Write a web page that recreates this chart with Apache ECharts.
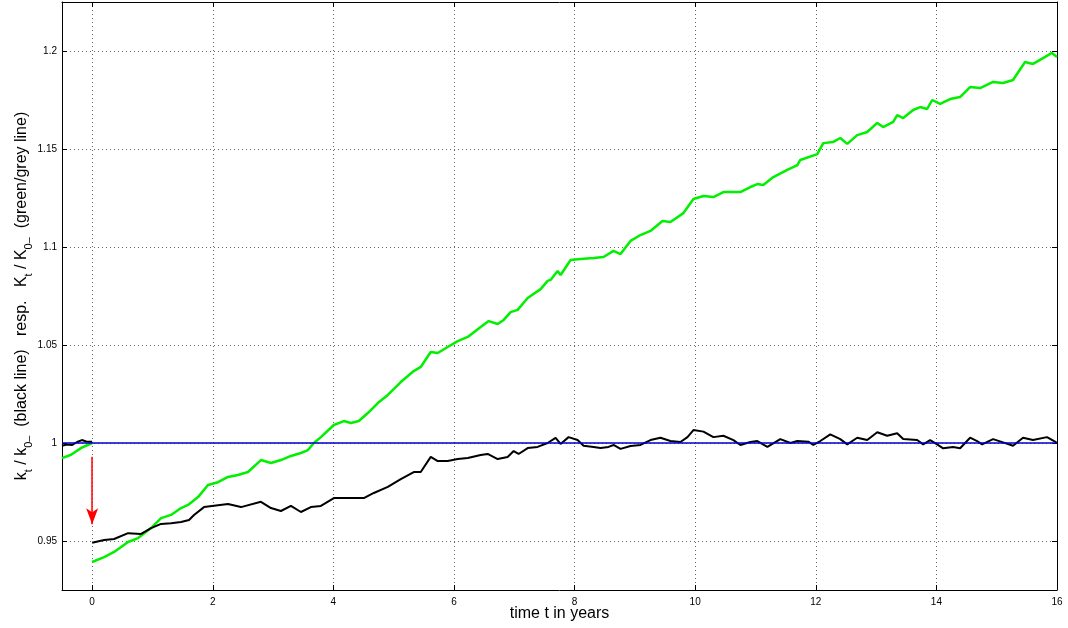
<!DOCTYPE html>
<html><head><meta charset="utf-8">
<script src="https://cdn.jsdelivr.net/npm/echarts@6/dist/echarts.min.js"></script>
<style>html,body{margin:0;padding:0;background:#fff}#c{width:1068px;height:628px}</style>
</head><body><div id="c"></div>
<script>
const xTicks = [0, 2, 4, 6, 8, 10, 12, 14, 16];
const yTicks = [0.95, 1, 1.05, 1.1, 1.15, 1.2];

const greenBefore = [[-0.5,0.9923],[-0.35,0.994],[-0.18,0.9975],[0,1.0]];
const blackBefore = [[-0.5,0.9986],[-0.42,0.9992],[-0.33,0.999],[-0.25,1.0005],[-0.17,1.0015],[-0.1,1.0008],[0,1.0007]];

const greenAfter = [[0,0.9393],[0.199,0.9418],[0.364,0.9444],[0.596,0.9495],[0.762,0.9515],[0.977,0.9566],[1.143,0.9617],[1.308,0.9633],[1.474,0.9668],[1.59,0.9684],[1.756,0.9724],[1.921,0.9786],[2.087,0.980],[2.253,0.9827],[2.418,0.9837],[2.584,0.9852],[2.799,0.9913],[2.965,0.9898],[3.13,0.9913],[3.296,0.9934],[3.462,0.9949],[3.578,0.9964],[3.677,1.0],[3.793,1.003],[4.008,1.0092],[4.174,1.0112],[4.29,1.0102],[4.422,1.0112],[4.571,1.0153],[4.737,1.0204],[4.903,1.0245],[5.118,1.0311],[5.333,1.0367],[5.449,1.0388],[5.615,1.0464],[5.731,1.0459],[5.896,1.049],[6.062,1.052],[6.228,1.0541],[6.443,1.0592],[6.576,1.0622],[6.725,1.0607],[6.824,1.0628],[6.94,1.0668],[7.056,1.0679],[7.222,1.074],[7.437,1.0785],[7.553,1.0827],[7.602,1.0832],[7.718,1.0878],[7.768,1.0857],[7.934,1.0934],[8.099,1.0939],[8.315,1.0944],[8.48,1.0949],[8.646,1.098],[8.762,1.0964],[8.928,1.1031],[9.093,1.1061],[9.259,1.1082],[9.458,1.1133],[9.59,1.1128],[9.805,1.1173],[9.971,1.1245],[10.137,1.126],[10.302,1.1255],[10.468,1.128],[10.75,1.128],[10.915,1.1306],[11.031,1.1321],[11.13,1.1316],[11.296,1.1357],[11.528,1.1393],[11.694,1.1418],[11.743,1.1444],[12.025,1.1474],[12.124,1.153],[12.29,1.1536],[12.406,1.1556],[12.522,1.1526],[12.687,1.1571],[12.853,1.1587],[13.019,1.1633],[13.118,1.1612],[13.284,1.1638],[13.35,1.1673],[13.449,1.1658],[13.615,1.1699],[13.731,1.1714],[13.847,1.1704],[13.93,1.175],[14.062,1.173],[14.228,1.1755],[14.393,1.1765],[14.559,1.1816],[14.725,1.1811],[14.94,1.1842],[15.106,1.1837],[15.271,1.1852],[15.47,1.1944],[15.602,1.1934],[15.768,1.1964],[15.917,1.199],[16.0,1.1969]];

const blackAfter = [[0,0.9491],[0.199,0.9505],[0.364,0.951],[0.596,0.954],[0.812,0.9536],[0.977,0.9566],[1.143,0.9587],[1.308,0.959],[1.474,0.9597],[1.607,0.9607],[1.689,0.9633],[1.855,0.9673],[2.021,0.968],[2.253,0.9689],[2.468,0.9673],[2.799,0.970],[2.965,0.9668],[3.13,0.9653],[3.296,0.9679],[3.462,0.9648],[3.627,0.9673],[3.793,0.9679],[4.008,0.9719],[4.29,0.9719],[4.505,0.9719],[4.671,0.9745],[4.903,0.9776],[5.118,0.9816],[5.333,0.9852],[5.449,0.9852],[5.615,0.9929],[5.731,0.9908],[5.896,0.9908],[6.062,0.9918],[6.228,0.9923],[6.443,0.9939],[6.559,0.9944],[6.725,0.9918],[6.89,0.9929],[6.99,0.9959],[7.072,0.9944],[7.222,0.9974],[7.387,0.998],[7.553,1.0],[7.685,1.0026],[7.768,0.9995],[7.901,1.003],[8.05,1.0015],[8.149,0.9986],[8.315,0.998],[8.431,0.9974],[8.563,0.998],[8.646,0.999],[8.762,0.997],[8.928,0.9985],[9.093,0.999],[9.259,1.0015],[9.424,1.0027],[9.59,1.001],[9.756,1.0005],[9.872,1.003],[9.971,1.0066],[10.137,1.0058],[10.302,1.003],[10.468,1.0037],[10.634,1.0015],[10.75,0.999],[10.915,1.0005],[11.031,1.001],[11.197,0.998],[11.412,1.002],[11.578,1.0],[11.694,1.001],[11.876,1.0007],[11.959,0.999],[12.075,1.001],[12.24,1.0044],[12.406,1.002],[12.522,0.9993],[12.687,1.0027],[12.853,1.0015],[13.019,1.0055],[13.184,1.0037],[13.35,1.005],[13.449,1.002],[13.681,1.0015],[13.781,0.9993],[13.896,1.0015],[14.012,0.9993],[14.112,0.9973],[14.277,0.998],[14.393,0.9973],[14.559,1.0027],[14.675,1.001],[14.758,0.9993],[14.94,1.002],[15.106,1.0003],[15.271,0.9986],[15.437,1.0027],[15.602,1.0015],[15.834,1.003],[15.967,1.0007],[16.0,1.0]];

const baseline = [[-0.5,1.0],[16,1.0]];
const arrowFrom = [0, 0.993];
const arrowTo = [0, 0.9585];

const FONT = 'Liberation Sans';
const chart = echarts.init(document.getElementById('c'), null, {renderer:'canvas'});

const tickCommon = {inside:true, length:5, lineStyle:{color:'#000', width:1}};
const splitDotted = {show:true, lineStyle:{color:'#666', type:[1,3], width:1}};

const yName = '{n|k}{s|t}{n| / k}{s|0–}{n|  (black line)   resp.   K}{s|t}{n| / K}{s|0–}{n|  (green/grey line)}';

chart.setOption({
  animation:false,
  backgroundColor:'#fff',
  grid:{left:62, right:11, top:2, bottom:38, show:false, containLabel:false, outerBoundsMode:'none'},
  xAxis:[{
    type:'value', min:-0.5, max:16, position:'bottom',
    axisLine:{show:true, onZero:false, lineStyle:{color:'#000', width:1}},
    axisTick:Object.assign({customValues:xTicks}, tickCommon),
    axisLabel:{customValues:xTicks, color:'#000', fontFamily:FONT, fontSize:10, margin:7},
    splitLine:splitDotted,
    name:'time t in years', nameLocation:'middle', nameGap:16, nameMoveOverlap:false,
    nameTextStyle:{color:'#000', fontFamily:FONT, fontSize:16}
  },{
    type:'value', min:-0.5, max:16, position:'top',
    axisLine:{show:true, onZero:false, lineStyle:{color:'#000', width:1}},
    axisTick:Object.assign({customValues:xTicks}, tickCommon),
    axisLabel:{show:false}, splitLine:{show:false}
  }],
  yAxis:[{
    type:'value', min:0.925, max:1.225, position:'left',
    axisLine:{show:true, onZero:false, lineStyle:{color:'#000', width:1}},
    axisTick:Object.assign({customValues:yTicks}, tickCommon),
    axisLabel:{customValues:yTicks, color:'#000', fontFamily:FONT, fontSize:10, margin:5},
    splitLine:splitDotted,
    name:yName, nameLocation:'middle', nameGap:28, nameRotate:90, nameMoveOverlap:false,
    nameTextStyle:{
      color:'#000', fontFamily:FONT, fontSize:16, lineHeight:24,
      rich:{
        n:{fontFamily:FONT, fontSize:16, color:'#000', lineHeight:24},
        s:{fontFamily:FONT, fontSize:11, color:'#000', lineHeight:12, verticalAlign:'bottom'}
      }
    }
  },{
    type:'value', min:0.925, max:1.225, position:'right',
    axisLine:{show:true, onZero:false, lineStyle:{color:'#000', width:1}},
    axisTick:Object.assign({customValues:yTicks}, tickCommon),
    axisLabel:{show:false}, splitLine:{show:false}
  }],
  series:[
    {type:'line', data:greenBefore, showSymbol:false, symbol:'none', lineStyle:{color:'#00f000', width:2.5}, z:2},
    {type:'line', data:greenAfter, showSymbol:false, symbol:'none', lineStyle:{color:'#00f000', width:2.5}, z:2},
    {type:'line', data:blackBefore, showSymbol:false, symbol:'none', lineStyle:{color:'#000', width:2}, z:3},
    {type:'line', data:blackAfter, showSymbol:false, symbol:'none', lineStyle:{color:'#000', width:2}, z:3},
    {type:'line', data:baseline, showSymbol:false, symbol:'none', lineStyle:{color:'#0000cc', width:1.5}, z:4,
     markLine:{
       silent:true, symbol:['none','arrow'], symbolSize:[9,16],
       label:{show:false},
       lineStyle:{color:'#ff0000', width:1.5, type:'solid'},
       data:[[{coord:arrowFrom},{coord:arrowTo}]]
     }}
  ]
});
</script></body></html>
